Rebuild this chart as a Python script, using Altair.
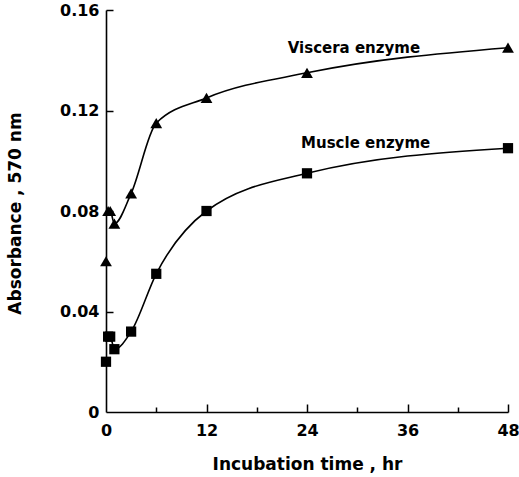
import altair as alt
import pandas as pd

# ---- data ----
time_hr = [0, 0.25, 0.5, 1, 3, 6, 12, 24, 48]
viscera = [0.06, 0.08, 0.08, 0.075, 0.087, 0.115, 0.125, 0.135, 0.145]
muscle = [0.02, 0.03, 0.03, 0.025, 0.032, 0.055, 0.08, 0.095, 0.105]
series_names = ["Viscera", "Muscle"]

x_label_values = [0, 12, 24, 36, 48]
x_major_ticks = [12, 24, 36, 48]
x_minor_ticks = [6, 18, 30, 42]
y_label_values = [0, 0.04, 0.08, 0.12, 0.16]
y_major_ticks = [0.04, 0.08, 0.12, 0.16]

label_text = ["Viscera enzyme", "Muscle enzyme"]
label_x = [29.6, 31.0]
label_y = [0.1447, 0.1069]

df = pd.DataFrame({
    "time": time_hr * 2,
    "abs": viscera + muscle,
    "series": [series_names[0]] * len(time_hr) + [series_names[1]] * len(time_hr),
})
labels_df = pd.DataFrame({"text": label_text, "x": label_x, "y": label_y})

FONT = "DejaVu Sans"
xscale = alt.Scale(domain=[0, 48], nice=False, zero=False)
yscale = alt.Scale(domain=[0, 0.16], nice=False)

main_x = alt.Axis(
    orient="bottom", values=x_label_values, ticks=False, grid=False,
    domain=True, domainColor="black", domainWidth=1.6,
    labelFont=FONT, labelFontSize=16, labelFontWeight="bold", labelColor="black",
    labelPadding=10, format="d", labelFlush=False,
    title="Incubation time , hr", titleFont=FONT, titleFontSize=17,
    titleFontWeight="bold", titleColor="black",
    titleX=201, titleY=52, titleAlign="center", titleBaseline="middle",
)
main_y = alt.Axis(
    orient="left", values=y_label_values, ticks=False, grid=False,
    domain=True, domainColor="black", domainWidth=1.6,
    labelFont=FONT, labelFontSize=16, labelFontWeight="bold", labelColor="black",
    labelPadding=7, labelFlush=False,
    labelExpr="datum.value == 0 ? '0' : format(datum.value, '.2f')",
    title="Absorbance , 570 nm", titleFont=FONT, titleFontSize=17,
    titleFontWeight="bold", titleColor="black",
    titleX=-91, titleY=203, titleAngle=-90, titleAlign="center", titleBaseline="middle",
)
major_x_ticks = alt.Axis(
    orient="bottom", values=x_major_ticks, ticks=True, tickSize=8, tickWidth=1.5,
    tickColor="black", labels=False, domain=False, grid=False, offset=-8, title="",
)
minor_x_ticks = alt.Axis(
    orient="bottom", values=x_minor_ticks, ticks=True, tickSize=5, tickWidth=1.5,
    tickColor="black", labels=False, domain=False, grid=False, offset=-5, title="",
)
major_y_ticks = alt.Axis(
    orient="left", values=y_major_ticks, ticks=True, tickSize=7, tickWidth=1.5,
    tickColor="black", labels=False, domain=False, grid=False, offset=-7, title="",
)

lines = alt.Chart(df).transform_filter("datum.time > 0").mark_line(
    interpolate="monotone", color="black", strokeWidth=1.6
).encode(
    x=alt.X("time:Q", scale=xscale, axis=main_x),
    y=alt.Y("abs:Q", scale=yscale, axis=main_y),
    detail="series:N",
)

points = alt.Chart(df).mark_point(filled=True, color="black", opacity=1).encode(
    x=alt.X("time:Q", scale=xscale, axis=major_x_ticks),
    y=alt.Y("abs:Q", scale=yscale, axis=major_y_ticks),
    shape=alt.Shape("series:N", scale=alt.Scale(domain=series_names, range=["triangle-up", "square"]), legend=None),
    size=alt.Size("series:N", scale=alt.Scale(domain=series_names, range=[140, 105]), legend=None),
)

texts = alt.Chart(labels_df).mark_text(
    font=FONT, fontSize=15, fontWeight="bold", color="black", align="center", baseline="middle"
).encode(
    x=alt.X("x:Q", scale=xscale, axis=minor_x_ticks),
    y=alt.Y("y:Q", scale=yscale, axis=None),
    text="text:N",
)

chart = alt.layer(lines, points, texts).resolve_axis(
    x="independent", y="independent"
).properties(
    width=402, height=402,
    autosize=alt.AutoSizeParams(type="none"),
    padding={"left": 106, "top": 10, "right": 11, "bottom": 65},
    background="white",
).configure_view(stroke=None)

chart.save("out.html", embed_options={"renderer": "svg", "actions": False})
